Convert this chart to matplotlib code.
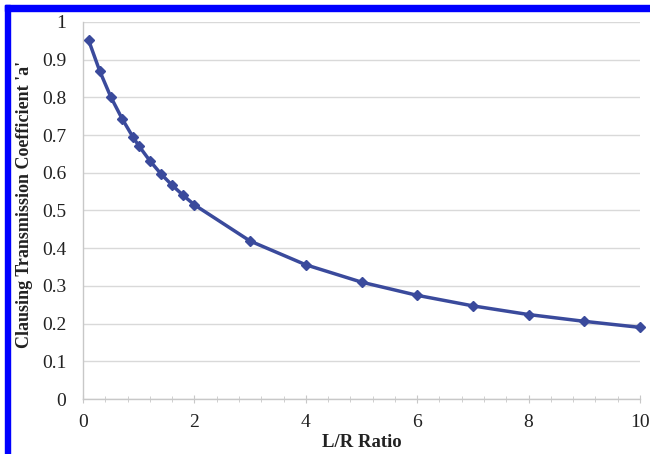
import matplotlib
matplotlib.use("Agg")
import matplotlib.pyplot as plt
from matplotlib.patches import Rectangle
from matplotlib.ticker import MultipleLocator, FuncFormatter

lr_ratio = [0.1, 0.3, 0.5, 0.7, 0.9, 1.0, 1.2, 1.4, 1.6, 1.8, 2.0,
            3, 4, 5, 6, 7, 8, 9, 10]
clausing_a = [0.952, 0.870, 0.801, 0.744, 0.694, 0.672, 0.632, 0.597, 0.567, 0.540, 0.515,
              0.419, 0.356, 0.310, 0.275, 0.247, 0.224, 0.206, 0.190]
x_ticks = [0, 2, 4, 6, 8, 10]
y_ticks = [0, 0.1, 0.2, 0.3, 0.4, 0.5, 0.6, 0.7, 0.8, 0.9, 1.0]

plt.rcParams['font.family'] = ['Liberation Serif', 'DejaVu Serif']

fig = plt.figure(figsize=(6.5, 4.54), dpi=100)
ax = fig.add_axes([83/650, 55/454, (640-83)/650, (399-22)/454])

ax.plot(lr_ratio, clausing_a, color='#3a4a9c', lw=2.5, marker='D', ms=5,
        mec='#3a4a9c', mfc='#3a4a9c', zorder=3, clip_on=False)

ax.set_xlim(0, 10)
ax.set_ylim(0, 1)
ax.set_xticks(x_ticks)
ax.set_yticks(y_ticks)
ax.xaxis.set_minor_locator(MultipleLocator(0.4))
ax.yaxis.set_major_formatter(FuncFormatter(lambda v, p: f"{v:g}"))

ax.grid(axis='y', color='#d9d9d9', lw=1.0)
ax.set_axisbelow(True)
for s in ['top', 'right']:
    ax.spines[s].set_visible(False)
for s in ['left', 'bottom']:
    ax.spines[s].set_color('#c8c8c8')
    ax.spines[s].set_linewidth(1.0)

ax.tick_params(axis='y', length=0, labelsize=14, pad=12, labelcolor='#222222')
ax.tick_params(axis='x', which='major', direction='inout', length=6, color='#c8c8c8',
               labelsize=14, pad=8, labelcolor='#222222')
ax.tick_params(axis='x', which='minor', direction='inout', length=4, color='#c8c8c8')

ax.set_xlabel("L/R Ratio", fontsize=13.5, fontweight='bold', labelpad=2, color='#222222')
ax.set_ylabel("Clausing Transmission Coefficient 'a'", fontsize=13, fontweight='bold',
              color='#222222')
ax.yaxis.set_label_coords(-0.09, 0.515)

# blue frame (top and left edges)
fig.patches.append(Rectangle((5/650, 1 - 11/454), 645/650, 6/454, transform=fig.transFigure,
                             color='#0000ff', zorder=10))
fig.patches.append(Rectangle((5/650, 0), 5/650, 1 - 5/454, transform=fig.transFigure,
                             color='#0000ff', zorder=10))

fig.savefig("out.png", dpi=100)
